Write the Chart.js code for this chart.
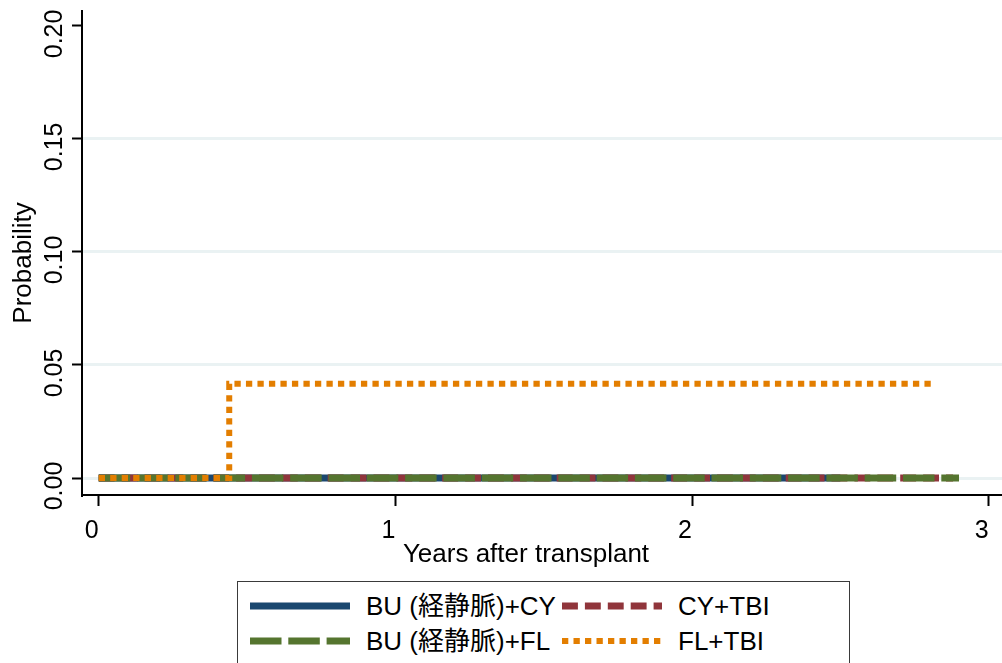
<!DOCTYPE html>
<html>
<head>
<meta charset="utf-8">
<script src="https://cdn.jsdelivr.net/npm/chart.js@4.4.1/dist/chart.umd.min.js"></script>
<style>
  html, body { margin: 0; padding: 0; background: #fff; overflow: hidden; }
  #wrap { position: relative; width: 1002px; height: 663px; }
  #legend {
    position: absolute; left: 237px; top: 581px; width: 613px; height: 100px;
    border: 1.5px solid #3a3a3a; box-sizing: border-box; background: #fff;
  }
</style>
</head>
<body>
<div id="wrap">
  <canvas id="chart" width="1002" height="663"></canvas>
  <div id="legend"></div>
</div>
<script>
// series (years after transplant, probability), step functions
const seriesNames = ['BU (経静脈)+CY', 'CY+TBI', 'BU (経静脈)+FL', 'FL+TBI'];
const buCyTime = [0, 2.50];
const buCyProb = [0, 0];
const cyTbiTime = [0, 2.88];
const cyTbiProb = [0, 0];
const buFlTime = [0, 2.90];
const buFlProb = [0, 0];
const flTbiTime = [0, 0.44, 2.81];
const flTbiProb = [0, 0.0417, 0.0417];

const xTicks = [0, 1, 2, 3];
const yTicks = [0, 0.05, 0.10, 0.15, 0.20];
const xTitle = 'Years after transplant';
const yTitle = 'Probability';

const colors = ['#1a476f', '#90353b', '#55752f', '#e37e00'];
const dashes = [[], [15.9, 7], [31.5, 6.8], [6.3, 5.2]];
const widths = [7, 7, 7, 6];

const toPoints = (t, p) => t.map((x, i) => ({ x: x, y: p[i] }));
const allData = [
  toPoints(buCyTime, buCyProb),
  toPoints(cyTbiTime, cyTbiProb),
  toPoints(buFlTime, buFlProb),
  toPoints(flTbiTime, flTbiProb)
];

const FONT = '"Liberation Sans", Arial, "Noto Sans CJK JP", sans-serif';

const labelsPlugin = {
  id: 'stataLabels',
  afterDraw(chart) {
    const ctx = chart.ctx;
    const xs = chart.scales.x, ys = chart.scales.y, area = chart.chartArea;
    ctx.save();
    ctx.fillStyle = '#000';
    ctx.textBaseline = 'alphabetic';
    ctx.textAlign = 'center';
    ctx.font = '25px ' + FONT;
    xTicks.forEach(v => {
      ctx.fillText(String(v), xs.getPixelForValue(v) - 7, xs.top + 43);
    });
    yTicks.forEach(v => {
      ctx.save();
      ctx.translate(ys.right - 20, ys.getPixelForValue(v) + 8);
      ctx.rotate(-Math.PI / 2);
      ctx.fillText(v.toFixed(2), 0, 0);
      ctx.restore();
    });
    ctx.font = '26px ' + FONT;
    ctx.fillText(xTitle, (area.left + area.right) / 2 - 16, xs.top + 67);
    ctx.save();
    ctx.translate(31, (area.top + area.bottom) / 2 + 10);
    ctx.rotate(-Math.PI / 2);
    ctx.fillText(yTitle, 0, 0);
    ctx.restore();
    ctx.restore();
  }
};

new Chart(document.getElementById('chart'), {
  type: 'line',
  data: {
    datasets: allData.map((d, i) => ({
      label: seriesNames[i],
      data: d,
      borderColor: colors[i],
      borderWidth: widths[i],
      borderDash: dashes[i],
      borderCapStyle: 'butt',
      borderJoinStyle: 'miter',
      stepped: 'before',
      pointRadius: 0,
      fill: false,
      order: 4 - i
    }))
  },
  options: {
    responsive: false,
    animation: false,
    layout: { padding: { top: 11, right: 0, left: 0, bottom: 0 } },
    plugins: { legend: { display: false }, tooltip: { enabled: false } },
    scales: {
      x: {
        type: 'linear',
        min: -0.0563,
        max: 3.0449,
        afterBuildTicks: s => { s.ticks = xTicks.map(v => ({ value: v })); },
        afterFit: s => { s.height = 168; },
        ticks: { display: false },
        grid: { drawOnChartArea: false, drawTicks: true, tickLength: 11, tickColor: '#000', tickWidth: 2 },
        border: { color: '#000', width: 2 }
      },
      y: {
        type: 'linear',
        min: -0.00752,
        max: 0.2066,
        afterBuildTicks: s => { s.ticks = yTicks.map(v => ({ value: v })); },
        afterFit: s => { s.width = 82; },
        ticks: { display: false },
        grid: {
          color: c => (c.tick && c.tick.value > 0.19 ? 'rgba(0,0,0,0)' : '#eaf2f3'),
          lineWidth: 3,
          drawTicks: true, tickLength: 10, tickColor: '#000', tickWidth: 2
        },
        border: { color: '#000', width: 2 }
      }
    }
  },
  plugins: [labelsPlugin]
});

// legend, Stata style: two columns
const legend = document.getElementById('legend');
const svgNS = 'http://www.w3.org/2000/svg';
const svg = document.createElementNS(svgNS, 'svg');
svg.setAttribute('width', '613');
svg.setAttribute('height', '100');
svg.style.position = 'absolute';
svg.style.left = '-1.5px';
svg.style.top = '-1.5px';
seriesNames.forEach((name, i) => {
  const col = i % 2, row = Math.floor(i / 2);
  const x0 = col === 0 ? 13 : 325;
  const cy = row === 0 ? 25 : 60;
  const line = document.createElementNS(svgNS, 'line');
  line.setAttribute('x1', x0);
  line.setAttribute('x2', x0 + 100);
  line.setAttribute('y1', cy);
  line.setAttribute('y2', cy);
  line.setAttribute('stroke', colors[i]);
  line.setAttribute('stroke-width', widths[i]);
  if (dashes[i].length) line.setAttribute('stroke-dasharray', dashes[i].join(' '));
  svg.appendChild(line);
  const text = document.createElementNS(svgNS, 'text');
  text.setAttribute('x', x0 + 116);
  text.setAttribute('y', cy + 9);
  text.setAttribute('font-family', FONT);
  text.setAttribute('font-size', '26');
  text.setAttribute('fill', '#000');
  text.textContent = name;
  svg.appendChild(text);
});
legend.appendChild(svg);
</script>
</body>
</html>
